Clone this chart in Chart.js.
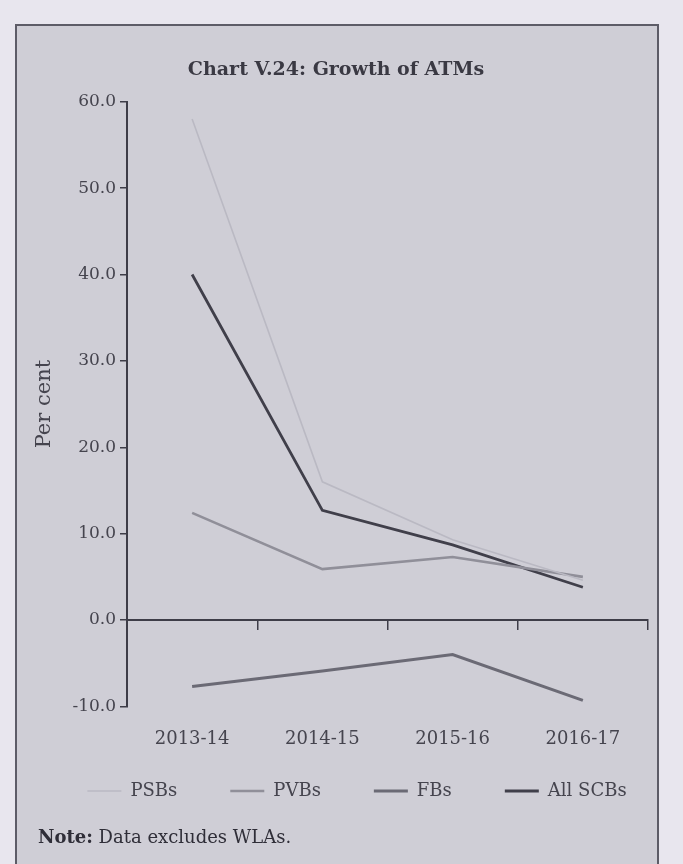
<!DOCTYPE html>
<html>
<head>
<meta charset="utf-8">
<script src="https://cdn.jsdelivr.net/npm/chart.js@4.4.1/dist/chart.umd.min.js"></script>
<style>
  html, body { margin: 0; padding: 0; }
  body {
    width: 683px; height: 864px; overflow: hidden; position: relative;
    background: #e8e6ee;
  }
  #panel {
    position: absolute; left: 15px; top: 24px; width: 640px; height: 860px;
    background: #cfced6; border: 2px solid #5d5c67;
  }
  #chartWrap { position: absolute; left: 0; top: 0; }
  #note {
    position: absolute; left: 38px; top: 826px;
    font-family: "DejaVu Serif", serif; font-size: 18px; color: #2f2e38;
  }
</style>
</head>
<body>
<div id="panel"></div>
<div id="chartWrap"><canvas id="atmChart" width="683" height="845"></canvas></div>
<div id="note"><b>Note:</b> Data excludes WLAs.</div>

<script>
// growth of ATMs, per cent, by bank group
const years = ['2013-14', '2014-15', '2015-16', '2016-17'];
const psbs = [58.0, 16.0, 9.3, 4.6];
const pvbs = [12.4, 5.9, 7.3, 5.0];
const fbs = [-7.7, -5.9, -4.0, -9.3];
const allScbs = [40.0, 12.7, 8.7, 3.8];
const yTicks = [-10, 0, 10, 20, 30, 40, 50, 60];

const serif = '"DejaVu Serif", serif';
const axisColor = '#3e3d48';
const textColor = '#45444e';

function series(label, data, color, width) {
    return {
        label: label,
        data: data,
        borderColor: color,
        backgroundColor: color,
        borderWidth: width,
        pointRadius: 0,
        tension: 0,
        fill: false
    };
}

// the legend row sits closer to the year labels than its item spacing would allow,
// so pin its top edge after layout; legend and title are nudged right as well
const blockPin = {
    id: 'blockPin',
    afterLayout(chart) {
        const lg = chart.legend;
        if (lg) {
            const top = 729;
            lg.bottom = top + (lg.bottom - lg.top);
            lg.top = top;
            lg.left += 33;
            lg.right += 33;
        }
        const tb = chart.titleBlock;
        if (tb) {
            tb.left += 12;
            tb.right += 12;
        }
    }
};

const ctx = document.getElementById('atmChart').getContext('2d');

new Chart(ctx, {
    type: 'line',
    data: {
        labels: years,
        datasets: [
            series('PSBs', psbs, '#bab9c3', 1.6),
            series('PVBs', pvbs, '#908f99', 2.6),
            series('FBs', fbs, '#6b6a75', 3),
            series('All SCBs', allScbs, '#403f4a', 2.8)
        ]
    },
    options: {
        responsive: false,
        animation: false,
        layout: { padding: { left: 0, right: 35, top: 0, bottom: 0 } },
        plugins: {
            title: {
                display: true,
                text: 'Chart V.24: Growth of ATMs',
                color: '#3a3943',
                font: { family: serif, size: 19, weight: 'bold' },
                padding: { top: 59, bottom: 20 }
            },
            legend: {
                position: 'bottom',
                labels: {
                    usePointStyle: true,
                    pointStyle: 'line',
                    pointStyleWidth: 34,
                    padding: 53,
                    color: textColor,
                    font: { family: serif, size: 18 }
                }
            },
            tooltip: { enabled: false }
        },
        scales: {
            x: {
                type: 'category',
                offset: true,
                grid: { display: false },
                border: { display: false },
                ticks: {
                    color: textColor,
                    padding: 14,
                    font: { family: serif, size: 18 }
                }
            },
            // axis line that sits on the zero value, ticks hanging below it
            xZero: {
                type: 'category',
                labels: years,
                offset: true,
                position: { y: 0 },
                grid: { offset: true, drawOnChartArea: false, tickLength: 9, color: axisColor, lineWidth: 1.5 },
                border: { color: axisColor, width: 2 },
                ticks: { display: false }
            },
            y: {
                min: -10,
                max: 60,
                afterBuildTicks: function (scale) {
                    scale.ticks = yTicks.map(v => ({ value: v }));
                },
                grid: { drawOnChartArea: false, tickLength: 7, color: axisColor, lineWidth: 1.5 },
                border: { color: axisColor, width: 2 },
                ticks: {
                    color: textColor,
                    padding: 4,
                    font: { family: serif, size: 17 },
                    callback: function (value) { return value.toFixed(1); }
                },
                title: {
                    display: true,
                    text: 'Per cent',
                    color: textColor,
                    font: { family: serif, size: 21 },
                    padding: { top: 32, bottom: 0 }
                },
                afterFit: function (scale) { scale.width = 127; }
            }
        }
    },
    plugins: [blockPin]
});
</script>
</body>
</html>
